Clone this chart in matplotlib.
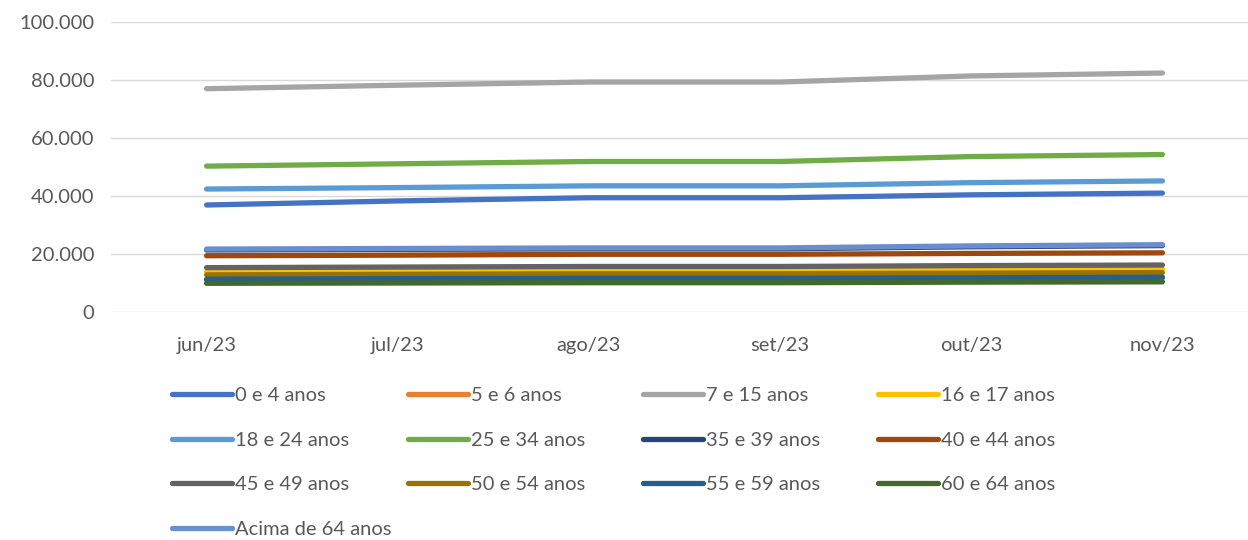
import matplotlib.pyplot as plt
from matplotlib.ticker import FuncFormatter

plt.rcParams["font.family"] = ["Lato", "DejaVu Sans"]

# ── Data ──────────────────────────────────────────────────────
months = ["jun/23", "jul/23", "ago/23", "set/23", "out/23", "nov/23"]

faixas = ["0 e 4 anos", "5 e 6 anos", "7 e 15 anos", "16 e 17 anos",
          "18 e 24 anos", "25 e 34 anos", "35 e 39 anos", "40 e 44 anos",
          "45 e 49 anos", "50 e 54 anos", "55 e 59 anos", "60 e 64 anos",
          "Acima de 64 anos"]

v_0_4   = [36900, 38300, 39400, 39400, 40400, 41000]
v_5_6   = [11000, 11200, 11300, 11300, 11500, 11700]
v_7_15  = [77000, 78200, 79300, 79300, 81400, 82400]
v_16_17 = [13900, 14100, 14300, 14300, 14600, 14800]
v_18_24 = [42400, 42900, 43500, 43500, 44600, 45200]
v_25_34 = [50300, 51100, 51900, 51900, 53600, 54300]
v_35_39 = [21400, 21600, 21800, 21800, 22500, 22900]
v_40_44 = [19400, 19600, 19900, 19900, 20200, 20400]
v_45_49 = [15300, 15500, 15700, 15700, 16000, 16200]
v_50_54 = [12800, 13000, 13200, 13200, 13400, 13600]
v_55_59 = [11300, 11500, 11600, 11600, 11800, 12000]
v_60_64 = [9900, 10000, 10100, 10100, 10300, 10400]
v_65p   = [21700, 21900, 22100, 22100, 22800, 23200]

series = [v_0_4, v_5_6, v_7_15, v_16_17, v_18_24, v_25_34, v_35_39,
          v_40_44, v_45_49, v_50_54, v_55_59, v_60_64, v_65p]

colors = ["#4472C4", "#ED7D31", "#A5A5A5", "#FFC000", "#5B9BD5", "#70AD47",
          "#264478", "#9E480E", "#636363", "#997300", "#255E91", "#43682B",
          "#698ED0"]

# ── Plot ──────────────────────────────────────────────────────
fig = plt.figure(figsize=(12.48, 5.4), dpi=100)
ax = fig.add_axes([111 / 1248, 1 - 312 / 540, 1147 / 1248, 290 / 540])

x = range(len(months))
handles = []
for vals, name, col in zip(series, faixas, colors):
    h, = ax.plot(x, vals, color=col, lw=3.8, solid_capstyle="round", label=name)
    handles.append(h)

ax.set_xlim(-0.5, 5.5)
ax.set_ylim(0, 100000)
ax.set_yticks(range(0, 100001, 20000))
ax.yaxis.set_major_formatter(FuncFormatter(lambda v, p: f"{int(v):,}".replace(",", ".")))
ax.set_xticks(list(x))
ax.set_xticklabels(months)
ax.grid(axis="y", color="#D9D9D9", lw=1)
ax.set_axisbelow(True)
for s in ["top", "right", "left", "bottom"]:
    ax.spines[s].set_visible(False)
ax.tick_params(axis="both", length=0, labelsize=14.5, colors="#595959", pad=12)
ax.tick_params(axis="x", pad=18)

# legend: 4 columns, row-wise order
col_x = [172 / 1248, 408 / 1248, 643 / 1248, 878 / 1248]
for j in range(4):
    idx = list(range(j, len(handles), 4))
    fig.legend([handles[i] for i in idx], [faixas[i] for i in idx],
               loc="upper left", bbox_to_anchor=(col_x[j], 1 - 387 / 540),
               frameon=False, fontsize=14.5, labelcolor="#595959",
               handlelength=3.0, handletextpad=0.15, labelspacing=1.36,
               borderaxespad=0, borderpad=0)

plt.savefig("out.png", dpi=100)
